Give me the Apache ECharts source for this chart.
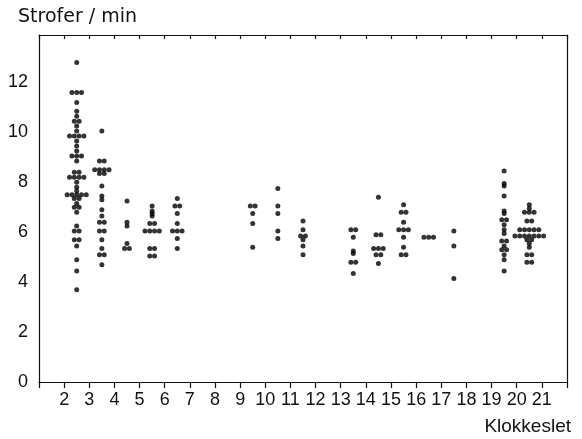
<!DOCTYPE html>
<html>
<head>
<meta charset="utf-8">
<script src="https://cdn.jsdelivr.net/npm/echarts@6/dist/echarts.min.js"></script>
<style>
html, body { margin: 0; padding: 0; background: #fff; }
#chart { width: 582px; height: 439px; }
</style>
</head>
<body>
<div id="chart"></div>
<script>
"use strict";

// clock hour of each column of dots
var hours = [2.5, 3.5, 4.5, 5.5, 6.5, 9.5, 10.5, 11.5, 13.5, 14.5, 15.5, 16.5, 17.5, 19.5, 20.5];

// strofer / min, one array per column (equal values sit side by side)
var h02 = [12.8, 11.6, 11.6, 11.6, 11.2, 10.85, 10.65, 10.45, 10.45, 10.25, 10.05, 9.85, 9.85, 9.85, 9.85,
	9.65, 9.45, 9.25, 9.05, 9.05, 9.05, 8.85, 8.4, 8.4, 8.2, 8.2, 8.2, 8.2, 8.0, 7.8, 7.65,
	7.5, 7.5, 7.5, 7.5, 7.5, 7.35, 7.35, 7.15, 7.0, 7.0, 6.8, 6.25, 6.05, 6.05, 5.7, 5.7, 5.45, 4.9, 4.45, 3.7];
var h03 = [10.05, 8.85, 8.85, 8.5, 8.5, 8.5, 8.5, 8.35, 8.35, 7.85, 7.45, 7.3, 6.9, 6.65, 6.4, 6.4,
	6.05, 6.05, 5.7, 5.35, 5.1, 5.1, 4.7];
var h04 = [7.25, 6.4, 6.25, 5.55, 5.35, 5.35];
var h05 = [7.05, 6.85, 6.75, 6.65, 6.35, 6.35, 6.05, 6.05, 6.05, 6.05, 5.35, 5.35, 5.05, 5.05];
var h06 = [7.35, 7.05, 7.05, 6.75, 6.35, 6.05, 6.05, 6.05, 5.75, 5.35];
var h09 = [7.05, 7.05, 6.75, 6.35, 5.4];
var h10 = [7.75, 7.05, 6.75, 6.05, 5.75];
var h11 = [6.45, 6.1, 5.85, 5.85, 5.7, 5.45, 5.1];
var h13 = [6.1, 6.1, 5.8, 5.25, 5.15, 4.8, 4.8, 4.35];
var h14 = [7.4, 5.9, 5.9, 5.35, 5.35, 5.35, 5.1, 5.1, 4.75];
var h15 = [7.1, 6.8, 6.8, 6.4, 6.1, 6.1, 6.1, 5.8, 5.4, 5.1, 5.1];
var h16 = [5.8, 5.8, 5.8];
var h17 = [6.05, 5.45, 4.15];
var h19 = [8.45, 7.95, 7.85, 7.45, 6.85, 6.75, 6.5, 6.5, 6.3, 6.1, 5.95, 5.65, 5.65, 5.45, 5.3, 5.3, 5.1, 4.9, 4.45];
var h20 = [7.1, 6.95, 6.8, 6.8, 6.8, 6.45, 6.45, 6.1, 6.1, 6.1, 6.1, 6.1, 5.85, 5.85, 5.85, 5.85, 5.85, 5.85, 5.85,
	5.7, 5.7, 5.55, 5.4, 5.1, 5.1, 4.8, 4.8];

var groups = [h02, h03, h04, h05, h06, h09, h10, h11, h13, h14, h15, h16, h17, h19, h20];

var xTickLabels = [2, 3, 4, 5, 6, 7, 8, 9, 10, 11, 12, 13, 14, 15, 16, 17, 18, 19, 20, 21];
var yTickLabels = [0, 2, 4, 6, 8, 10, 12];

var DOT_STEP = 0.19; // x-axis units between dots of equal value
var INK = '#111';

// spread equal values of one column sideways
function swarm(hour, values) {
	var count = {};
	var used = {};
	values.forEach(function(v) { count[v] = (count[v] || 0) + 1; });
	return values.map(function(v) {
		used[v] = used[v] === undefined ? 0 : used[v] + 1;
		return [hour + (used[v] - (count[v] - 1) / 2) * DOT_STEP, v];
	});
}

var points = [];
for (var i = 0; i < hours.length; i++) {
	points = points.concat(swarm(hours[i], groups[i]));
}

var lineStyle = { color: INK, width: 1.2 };
var labelFont = { color: INK, fontSize: 18, fontFamily: 'Liberation Sans' };

var chart = echarts.init(document.getElementById('chart'));
chart.setOption({
	animation: false,
	title: [{
		text: 'Strofer / min',
		left: 18, top: 8, padding: 0,
		textStyle: { color: INK, fontSize: 19, fontWeight: 'normal', fontFamily: 'DejaVu Sans' }
	}, {
		text: 'Klokkeslet',
		right: 11, top: 417, padding: 0,
		textStyle: { color: INK, fontSize: 19, fontWeight: 'normal', fontFamily: 'Liberation Sans' }
	}],
	grid: { left: 39, right: 15, top: 35, bottom: 57 },
	xAxis: [{
		type: 'value', position: 'bottom', min: 1, max: 22, interval: 1,
		splitLine: { show: false },
		axisLine: { onZero: false, lineStyle: lineStyle },
		axisTick: { length: 6, lineStyle: lineStyle },
		axisLabel: Object.assign({
			margin: 9,
			formatter: function(v) { return xTickLabels.indexOf(v) >= 0 ? String(v) : ''; }
		}, labelFont)
	}, {
		type: 'value', position: 'top', min: 1, max: 22, interval: 1,
		splitLine: { show: false },
		axisLine: { onZero: false, lineStyle: lineStyle },
		axisTick: { inside: true, length: 4, lineStyle: lineStyle },
		axisLabel: { show: false }
	}],
	yAxis: [{
		type: 'value', position: 'left', min: 0, max: 13.9, interval: 2,
		splitLine: { show: false },
		axisLine: { show: true, onZero: false, lineStyle: lineStyle },
		axisTick: { show: false },
		axisLabel: Object.assign({
			margin: 11,
			formatter: function(v) { return yTickLabels.indexOf(v) >= 0 ? String(v) : ''; }
		}, labelFont)
	}, {
		type: 'value', position: 'right', min: 0, max: 13.9, interval: 2,
		splitLine: { show: false },
		axisLine: { show: true, onZero: false, lineStyle: lineStyle },
		axisTick: { show: false },
		axisLabel: { show: false }
	}],
	series: [{
		type: 'scatter',
		xAxisIndex: 0,
		yAxisIndex: 0,
		symbol: 'circle',
		symbolSize: 5,
		itemStyle: { color: '#000' },
		data: points
	}]
});
</script>
</body>
</html>
